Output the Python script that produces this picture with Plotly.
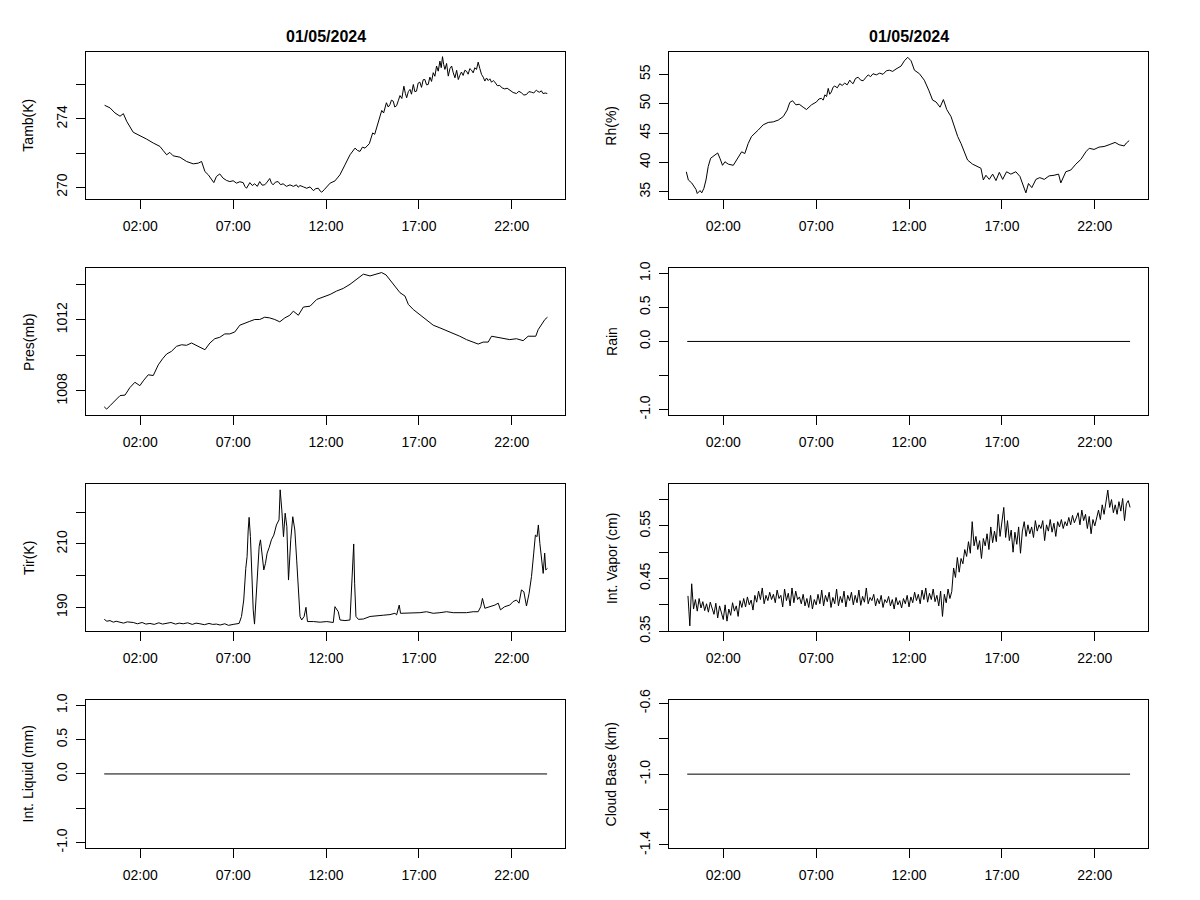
import plotly.graph_objects as go

# hours since 00:00 on 01/05/2024, one list per panel
tamb_hours = [0.08, 0.37, 0.64, 0.91, 1.09, 1.27, 1.62, 1.89, 2.07, 2.34,
              2.70, 3.06, 3.24, 3.42, 3.59, 3.77, 4.13, 4.49, 4.85, 5.12,
              5.30, 5.48, 5.66, 5.84, 5.96, 6.10, 6.28, 6.46, 6.64, 6.82,
              7.00, 7.18, 7.36, 7.54, 7.63, 7.72, 7.81, 7.90, 8.03, 8.16,
              8.30, 8.43, 8.56, 8.70, 8.83, 8.97, 9.06, 9.15, 9.28, 9.42,
              9.55, 9.69, 9.87, 10.06, 10.24, 10.41, 10.50, 10.60, 10.78, 10.96,
              11.14, 11.32, 11.45, 11.59, 11.68, 11.77, 11.90, 12.04, 12.22, 12.48,
              12.75, 13.02, 13.29, 13.56, 13.70, 13.83, 13.96, 14.10, 14.33, 14.51,
              14.62, 14.72, 14.81, 14.90, 15.00, 15.10, 15.17, 15.25, 15.35, 15.44,
              15.52, 15.62, 15.70, 15.80, 15.90, 15.98, 16.08, 16.19, 16.27, 16.34,
              16.43, 16.52, 16.60, 16.70, 16.78, 16.87, 16.96, 17.05, 17.14, 17.23,
              17.32, 17.41, 17.50, 17.59, 17.68, 17.77, 17.86, 17.95, 18.04, 18.13,
              18.20, 18.27, 18.33, 18.40, 18.49, 18.58, 18.67, 18.76, 18.85, 18.94,
              19.03, 19.12, 19.20, 19.29, 19.38, 19.47, 19.56, 19.65, 19.74, 19.83,
              19.92, 20.01, 20.10, 20.19, 20.28, 20.37, 20.46, 20.55, 20.64, 20.73,
              20.82, 20.91, 21.00, 21.09, 21.22, 21.35, 21.48, 21.62, 21.75, 21.89,
              22.07, 22.25, 22.38, 22.52, 22.65, 22.79, 22.92, 23.05, 23.18, 23.32,
              23.41, 23.50, 23.59, 23.68, 23.80, 23.91]
tamb = [274.80, 274.65, 274.35, 274.16, 274.31, 273.86, 273.22, 273.08, 272.94, 272.82,
        272.59, 272.39, 272.14, 271.90, 272.04, 271.84, 271.76, 271.51, 271.37, 271.41,
        271.51, 270.92, 270.73, 270.47, 270.27, 270.63, 270.78, 270.53, 270.40, 270.33,
        270.38, 270.24, 270.32, 270.27, 270.05, 269.94, 270.15, 270.27, 270.10, 270.20,
        270.05, 270.33, 270.12, 270.14, 270.30, 270.51, 270.25, 270.14, 270.30, 270.33,
        270.15, 270.20, 270.05, 270.14, 270.05, 270.14, 270.00, 270.10, 270.02, 269.94,
        270.02, 269.80, 269.92, 269.94, 269.78, 269.71, 269.85, 270.00, 270.24, 270.37,
        270.73, 271.31, 271.90, 272.29, 272.15, 272.10, 272.35, 272.29, 272.55, 273.18,
        273.10, 273.47, 273.80, 274.12, 274.50, 274.35, 274.65, 274.95, 274.70, 274.84,
        275.10, 275.04, 274.70, 274.78, 275.10, 275.37, 275.20, 275.92, 275.50, 275.24,
        275.60, 275.73, 275.45, 276.02, 275.60, 275.63, 276.10, 276.16, 275.85, 276.30,
        276.31, 276.00, 276.02, 276.45, 276.20, 276.71, 276.50, 277.10, 276.80, 277.39,
        277.00, 277.65, 277.20, 276.90, 277.25, 276.51, 276.95, 277.10, 276.70, 276.41,
        276.85, 276.31, 276.55, 276.75, 276.55, 276.85, 276.80, 276.62, 276.95, 276.86,
        276.70, 277.00, 276.90, 277.33, 276.95, 276.61, 276.45, 276.22, 276.40, 276.25,
        276.35, 276.15, 276.25, 276.16, 275.95, 275.96, 275.82, 275.76, 275.80, 275.69,
        275.55, 275.49, 275.62, 275.53, 275.40, 275.43, 275.60, 275.57, 275.52, 275.69,
        275.60, 275.57, 275.65, 275.49, 275.52, 275.49]

rh_hours = [0.01, 0.12, 0.30, 0.42, 0.53, 0.60, 0.75, 0.84, 0.96, 1.07,
            1.19, 1.32, 1.50, 1.70, 1.82, 1.96, 2.09, 2.27, 2.54, 2.72,
            2.99, 3.16, 3.34, 3.52, 3.70, 3.88, 4.15, 4.42, 4.69, 4.96,
            5.23, 5.44, 5.58, 5.73, 5.91, 6.09, 6.30, 6.48, 6.75, 7.02,
            7.15, 7.29, 7.38, 7.47, 7.56, 7.65, 7.73, 7.82, 7.91, 8.00,
            8.14, 8.27, 8.40, 8.54, 8.67, 8.81, 8.90, 8.99, 9.12, 9.26,
            9.40, 9.53, 9.66, 9.80, 9.93, 10.06, 10.24, 10.42, 10.60, 10.78,
            10.94, 11.12, 11.30, 11.57, 11.75, 11.93, 12.11, 12.29, 12.56, 12.82,
            13.06, 13.27, 13.45, 13.67, 13.85, 14.03, 14.26, 14.44, 14.62, 14.80,
            14.98, 15.15, 15.42, 15.69, 15.87, 16.00, 16.14, 16.32, 16.50, 16.68,
            16.86, 17.04, 17.25, 17.48, 17.75, 17.97, 18.14, 18.29, 18.43, 18.61,
            18.83, 19.04, 19.28, 19.54, 19.81, 20.05, 20.17, 20.44, 20.71, 20.98,
            21.25, 21.52, 21.70, 21.96, 22.23, 22.50, 22.77, 23.09, 23.31, 23.58,
            23.70, 23.85]
rh = [38.4, 37.0, 36.5, 36.0, 35.4, 34.7, 35.2, 34.8, 35.6, 37.0,
      39.3, 40.7, 41.1, 41.6, 40.7, 39.5, 40.1, 39.7, 39.5, 40.4,
      41.8, 41.5, 43.2, 44.4, 44.9, 45.5, 46.4, 46.8, 46.9, 47.2,
      47.8, 48.9, 50.2, 50.5, 49.8, 49.9, 49.4, 49.0, 49.8, 50.3,
      50.8, 50.9, 50.6, 51.5, 51.2, 52.6, 51.6, 52.0, 52.8, 53.0,
      52.7, 53.4, 53.1, 53.5, 53.2, 54.0, 53.6, 53.4, 54.3, 54.5,
      54.0, 53.9, 54.4, 54.9, 54.6, 55.1, 54.9, 55.2, 55.0, 55.6,
      55.7, 55.5, 55.9, 56.4, 57.3, 57.9, 57.3, 55.7, 55.1, 54.0,
      52.3, 50.6, 50.3, 49.4, 50.7, 49.0, 47.8, 46.1, 44.4, 43.2,
      41.8, 40.4, 39.7, 39.3, 39.0, 37.0, 37.8, 37.1, 38.0, 36.9,
      38.3, 37.1, 38.4, 38.0, 38.4, 37.6, 35.9, 34.8, 36.4, 35.7,
      37.1, 37.4, 37.1, 37.7, 37.8, 38.0, 36.5, 38.4, 38.7, 39.7,
      40.5, 41.8, 42.4, 42.2, 42.6, 42.7, 43.0, 43.4, 43.0, 42.8,
      43.3, 43.7]

pres_hours = [0.06, 0.19, 0.37, 0.64, 0.91, 1.18, 1.44, 1.71, 1.98, 2.16,
              2.43, 2.70, 2.97, 3.20, 3.42, 3.68, 3.95, 4.22, 4.49, 4.76,
              5.03, 5.30, 5.48, 5.75, 6.01, 6.28, 6.55, 6.82, 7.09, 7.36,
              7.63, 7.90, 8.16, 8.43, 8.70, 8.97, 9.24, 9.51, 9.78, 10.05,
              10.24, 10.51, 10.78, 11.14, 11.50, 11.86, 12.22, 12.57, 12.93, 13.29,
              13.65, 14.01, 14.37, 14.72, 14.99, 15.23, 15.44, 15.71, 15.98, 16.25,
              16.43, 16.70, 17.05, 17.41, 17.77, 18.13, 18.49, 18.85, 19.20, 19.56,
              19.92, 20.19, 20.46, 20.73, 20.91, 21.18, 21.53, 21.89, 22.25, 22.61,
              22.88, 23.29, 23.42, 23.60, 23.78, 23.92]
pres = [1007.11, 1006.98, 1007.17, 1007.43, 1007.74, 1007.77, 1008.19, 1008.49, 1008.30, 1008.57,
        1008.91, 1008.87, 1009.47, 1009.81, 1010.08, 1010.23, 1010.51, 1010.60, 1010.57, 1010.70,
        1010.57, 1010.45, 1010.32, 1010.70, 1010.94, 1011.02, 1011.21, 1011.21, 1011.32, 1011.70,
        1011.83, 1011.92, 1012.02, 1012.02, 1012.15, 1012.11, 1012.02, 1011.89, 1012.11, 1012.26,
        1012.49, 1012.26, 1012.72, 1012.77, 1013.15, 1013.28, 1013.43, 1013.62, 1013.77, 1014.00,
        1014.28, 1014.57, 1014.47, 1014.57, 1014.66, 1014.53, 1014.23, 1013.91, 1013.53, 1013.34,
        1012.87, 1012.58, 1012.30, 1012.02, 1011.70, 1011.55, 1011.40, 1011.21, 1011.08, 1010.89,
        1010.75, 1010.64, 1010.75, 1010.75, 1011.08, 1011.02, 1010.94, 1010.89, 1010.94, 1010.83,
        1011.08, 1011.08, 1011.45, 1011.74, 1012.02, 1012.15]

tir_hours = [0.06, 0.20, 0.37, 0.55, 0.70, 0.91, 1.10, 1.30, 1.62, 1.85,
             2.10, 2.30, 2.52, 2.75, 3.00, 3.20, 3.42, 3.65, 3.90, 4.10,
             4.31, 4.55, 4.80, 5.00, 5.21, 5.45, 5.70, 5.90, 6.10, 6.30,
             6.55, 6.75, 7.00,
             7.32, 7.45, 7.57, 7.68, 7.75, 7.81, 7.86, 7.93, 8.00, 8.08,
             8.15, 8.22, 8.31, 8.40, 8.47, 8.56, 8.65, 8.74, 8.83, 8.94,
             9.06, 9.19, 9.33, 9.47, 9.53, 9.62, 9.71, 9.80, 9.89, 9.98,
             10.10, 10.21, 10.32, 10.42, 10.51, 10.60, 10.69, 10.82, 10.92, 11.00,
             11.32, 11.68, 12.04, 12.39, 12.48, 12.57, 12.66, 12.75, 13.02, 13.29,
             13.36, 13.43, 13.49, 13.54, 13.61, 13.74, 14.01, 14.37, 14.72, 15.08,
             15.44, 15.71, 15.80, 15.94, 16.01, 16.34, 16.70, 17.05, 17.41, 17.77,
             18.13, 18.49, 18.85, 19.20, 19.56, 19.92, 20.19, 20.33, 20.42, 20.55,
             20.82, 21.09, 21.27, 21.39, 21.62, 21.89, 22.07, 22.25, 22.39, 22.52,
             22.65, 22.79, 22.93, 23.06, 23.18, 23.27, 23.36, 23.43, 23.51, 23.60,
             23.69, 23.77, 23.83, 23.92]
tir = [186.2, 185.6, 185.8, 185.3, 185.6, 185.4, 185.0, 185.4, 185.2, 184.8,
       185.2, 184.7, 184.9, 184.6, 185.1, 184.7, 184.9, 185.2, 184.7, 185.0,
       184.8, 185.1, 184.6, 185.0, 184.8, 184.5, 184.9, 184.6, 184.7, 184.4,
       184.8, 184.3, 184.6,
       184.9, 187.1, 192.3, 202.3, 206.0, 214.4, 218.4, 212.3, 199.7, 189.2,
       184.7, 191.3, 197.6, 209.2, 211.3, 207.1, 201.8, 203.9, 207.1, 208.9,
       211.3, 212.8, 216.0, 217.6, 227.1, 220.7, 212.3, 219.7, 215.5, 198.6,
       211.3, 218.6, 214.4, 204.9, 196.5, 187.1, 186.0, 187.1, 190.0, 185.5,
       185.5, 185.3, 185.5, 185.2, 190.2, 189.2, 188.6, 186.0, 185.8, 186.0,
       194.4, 203.9, 210.0, 197.6, 187.1, 186.2, 186.3, 187.1, 187.4, 187.5,
       187.7, 188.1, 187.6, 190.7, 188.1, 188.1, 188.3, 188.3, 188.6, 188.1,
       188.3, 188.6, 188.3, 188.3, 188.3, 188.6, 188.6, 190.2, 192.8, 189.7,
       190.2, 190.7, 191.3, 189.2, 190.2, 190.7, 191.8, 192.3, 191.3, 195.5,
       194.9, 190.4, 194.4, 199.7, 207.1, 212.8, 212.3, 216.0, 210.2, 204.9,
       200.7, 207.1, 201.8, 202.3]

vapor_hours = [0.1, 0.2, 0.3, 0.4, 0.5, 0.6, 0.7, 0.8, 0.9, 1.0,
               1.1, 1.2, 1.3, 1.4, 1.5, 1.6, 1.7, 1.8, 1.9, 2.0,
               2.1, 2.2, 2.3, 2.4, 2.5, 2.6, 2.7, 2.8, 2.9, 3.0,
               3.1, 3.2, 3.3, 3.4, 3.5, 3.6, 3.7, 3.8, 3.9, 4.0,
               4.1, 4.2, 4.3, 4.4, 4.5, 4.6, 4.7, 4.8, 4.9, 5.0,
               5.1, 5.2, 5.3, 5.4, 5.5, 5.6, 5.7, 5.8, 5.9, 6.0,
               6.1, 6.2, 6.3, 6.4, 6.5, 6.6, 6.7, 6.8, 6.9, 7.0,
               7.1, 7.2, 7.3, 7.4, 7.5, 7.6, 7.7, 7.8, 7.9, 8.0,
               8.1, 8.2, 8.3, 8.4, 8.5, 8.6, 8.7, 8.8, 8.9, 9.0,
               9.1, 9.2, 9.3, 9.4, 9.5, 9.6, 9.7, 9.8, 9.9, 10.0,
               10.1, 10.2, 10.3, 10.4, 10.5, 10.6, 10.7, 10.8, 10.9, 11.0,
               11.1, 11.2, 11.3, 11.4, 11.5, 11.6, 11.7, 11.8, 11.9, 12.0,
               12.1, 12.2, 12.3, 12.4, 12.5, 12.6, 12.7, 12.8, 12.9, 13.0,
               13.1, 13.2, 13.3, 13.4, 13.5, 13.6, 13.7, 13.8, 13.9, 14.0,
               14.1, 14.2, 14.3, 14.4, 14.5, 14.6, 14.7, 14.8, 14.9, 15.0,
               15.1, 15.2, 15.3, 15.4, 15.5, 15.6, 15.7, 15.8, 15.9, 16.0,
               16.1, 16.2, 16.3, 16.4, 16.5, 16.6, 16.7, 16.8, 16.9, 17.0,
               17.1, 17.2, 17.3, 17.4, 17.5, 17.6, 17.7, 17.8, 17.9, 18.0,
               18.1, 18.2, 18.3, 18.4, 18.5, 18.6, 18.7, 18.8, 18.9, 19.0,
               19.1, 19.2, 19.3, 19.4, 19.5, 19.6, 19.7, 19.8, 19.9, 20.0,
               20.1, 20.2, 20.3, 20.4, 20.5, 20.6, 20.7, 20.8, 20.9, 21.0,
               21.1, 21.2, 21.3, 21.4, 21.5, 21.6, 21.7, 21.8, 21.9, 22.0,
               22.1, 22.2, 22.3, 22.4, 22.5, 22.6, 22.7, 22.8, 22.9, 23.0,
               23.1, 23.2, 23.3, 23.4, 23.5, 23.6, 23.7, 23.8, 23.9]
vapor = [0.417, 0.360, 0.440, 0.392, 0.410, 0.388, 0.412, 0.394, 0.406, 0.389,
         0.402, 0.386, 0.405, 0.392, 0.382, 0.403, 0.375, 0.398, 0.386, 0.372,
         0.400, 0.369, 0.392, 0.380, 0.404, 0.388, 0.398, 0.378, 0.408, 0.395,
         0.412, 0.396, 0.415, 0.400, 0.409, 0.390, 0.418, 0.405, 0.426, 0.410,
         0.432, 0.402, 0.418, 0.408, 0.424, 0.410, 0.420, 0.404, 0.428, 0.412,
         0.418, 0.396, 0.430, 0.408, 0.422, 0.398, 0.432, 0.404, 0.426, 0.410,
         0.415, 0.402, 0.420, 0.398, 0.412, 0.395, 0.418, 0.392, 0.410, 0.400,
         0.420, 0.402, 0.428, 0.398, 0.418, 0.406, 0.424, 0.395, 0.414, 0.402,
         0.430, 0.398, 0.416, 0.404, 0.426, 0.396, 0.418, 0.408, 0.424, 0.400,
         0.418, 0.404, 0.428, 0.399, 0.416, 0.405, 0.432, 0.402, 0.414, 0.408,
         0.420, 0.398, 0.412, 0.402, 0.418, 0.395, 0.410, 0.404, 0.416, 0.398,
         0.410, 0.392, 0.414, 0.400, 0.408, 0.394, 0.412, 0.402, 0.418, 0.396,
         0.415, 0.404, 0.424, 0.408, 0.420, 0.402, 0.428, 0.410, 0.432, 0.405,
         0.422, 0.410, 0.430, 0.406, 0.418, 0.398, 0.426, 0.378, 0.420, 0.404,
         0.430, 0.412, 0.425, 0.470, 0.452, 0.490, 0.462, 0.488, 0.478, 0.505,
         0.492, 0.520, 0.498, 0.558, 0.512, 0.530, 0.505, 0.522, 0.488, 0.526,
         0.512, 0.535, 0.505, 0.548, 0.518, 0.540, 0.520, 0.572, 0.530, 0.555,
         0.585, 0.528, 0.560, 0.522, 0.542, 0.500, 0.538, 0.515, 0.548, 0.498,
         0.540, 0.558, 0.530, 0.552, 0.535, 0.548, 0.528, 0.560, 0.540, 0.552,
         0.545, 0.560, 0.522, 0.552, 0.540, 0.562, 0.538, 0.555, 0.530, 0.558,
         0.548, 0.562, 0.545, 0.558, 0.550, 0.566, 0.552, 0.570, 0.556, 0.565,
         0.575, 0.552, 0.580, 0.560, 0.572, 0.545, 0.568, 0.535, 0.562, 0.550,
         0.568, 0.580, 0.562, 0.590, 0.572, 0.598, 0.618, 0.585, 0.600, 0.575,
         0.590, 0.572, 0.596, 0.578, 0.602, 0.560, 0.592, 0.598, 0.585]

flat_hours = [0.06, 23.9]
rain = [0.0, 0.0]
liquid = [0.0, 0.0]
cloud_base = [-1.0, -1.0]

tick_hours = [2, 7, 12, 17, 22]
tick_labels = ["02:00", "07:00", "12:00", "17:00", "22:00"]
date_label = "01/05/2024"

# panel: (x, y, axis title, y range, y ticks, y tick labels)
panels = [
    (tamb_hours, tamb, "Tamb(K)", [269.31, 277.94], [270, 272, 274, 276], ["270", "", "274", ""]),
    (rh_hours, rh, "Rh(%)", [33.76, 58.85], [35, 40, 45, 50, 55], ["35", "40", "45", "50", "55"]),
    (pres_hours, pres, "Pres(mb)", [1006.65, 1014.9], [1008, 1010, 1012, 1014], ["1008", "", "1012", ""]),
    (flat_hours, rain, "Rain", [-1.08, 1.074], [-1, -0.5, 0, 0.5, 1], ["-1.0", "", "0.0", "0.5", "1.0"]),
    (tir_hours, tir, "Tir(K)", [182.42, 228.84], [190, 200, 210, 220], ["190", "", "210", ""]),
    (vapor_hours, vapor, "Int. Vapor (cm)", [0.3497, 0.629], [0.35, 0.40, 0.45, 0.50, 0.55, 0.60],
     ["0.35", "", "0.45", "", "0.55", ""]),
    (flat_hours, liquid, "Int. Liquid (mm)", [-1.08, 1.074], [-1, -0.5, 0, 0.5, 1], ["-1.0", "", "0.0", "0.5", "1.0"]),
    (flat_hours, cloud_base, "Cloud Base (km)", [-1.417, -0.583], [-1.4, -1.2, -1.0, -0.8, -0.6],
     ["-1.4", "", "-1.0", "", "-0.6"]),
]

W, H = 1200, 900
col_px = [(86.3, 565.3), (669.3, 1148.3)]
row_px = [(51.7, 199.0), (268.3, 415.0), (484.3, 631.3), (700.3, 848.0)]
font = "Liberation Sans, Arial, sans-serif"

fig = go.Figure()
layout = {}
annotations = []
for i, (xs, ys, name, yrange, yticks, ylabels) in enumerate(panels):
    r, c = divmod(i, 2)
    n = "" if i == 0 else str(i + 1)
    x0, x1 = col_px[c]
    y0, y1 = row_px[r]
    fig.add_trace(go.Scatter(x=xs, y=ys, mode="lines", line=dict(color="black", width=1),
                             xaxis="x" + n, yaxis="y" + n, showlegend=False))
    common = dict(showline=True, mirror=True, linecolor="black", linewidth=1,
                  ticks="outside", ticklen=9, tickcolor="black", tickwidth=1,
                  showgrid=False, zeroline=False, automargin=False,
                  tickfont=dict(family=font, size=14, color="black"))
    layout["xaxis" + n] = dict(domain=[x0 / W, x1 / W], anchor="y" + n, range=[-0.905, 24.88],
                               tickmode="array", tickvals=tick_hours, ticktext=tick_labels,
                               ticklabelstandoff=5, **common)
    layout["yaxis" + n] = dict(domain=[1 - y1 / H, 1 - y0 / H], anchor="x" + n, range=yrange,
                               tickmode="array", tickvals=yticks, ticktext=ylabels,
                               tickangle=-90, ticklabelstandoff=4, **common)
    annotations.append(dict(text=name, textangle=-90, x=(x0 - 58) / W, y=1 - (y0 + y1) / 2 / H,
                            xref="paper", yref="paper", showarrow=False, xanchor="center",
                            yanchor="middle", font=dict(family=font, size=14, color="black")))
    if r == 0:
        annotations.append(dict(text="<b>" + date_label + "</b>", x=(x0 + x1) / 2 / W, y=1 - 37 / H,
                                xref="paper", yref="paper", showarrow=False, xanchor="center",
                                yanchor="middle", font=dict(family=font, size=16, color="black")))

fig.update_layout(width=W, height=H, margin=dict(l=0, r=0, t=0, b=0),
                  plot_bgcolor="white", paper_bgcolor="white", annotations=annotations, **layout)
# the page's default 8px body margin would shift the whole figure
fig.write_html("out.html", config={"displayModeBar": False},
               post_script="document.body.style.margin = '0';")
